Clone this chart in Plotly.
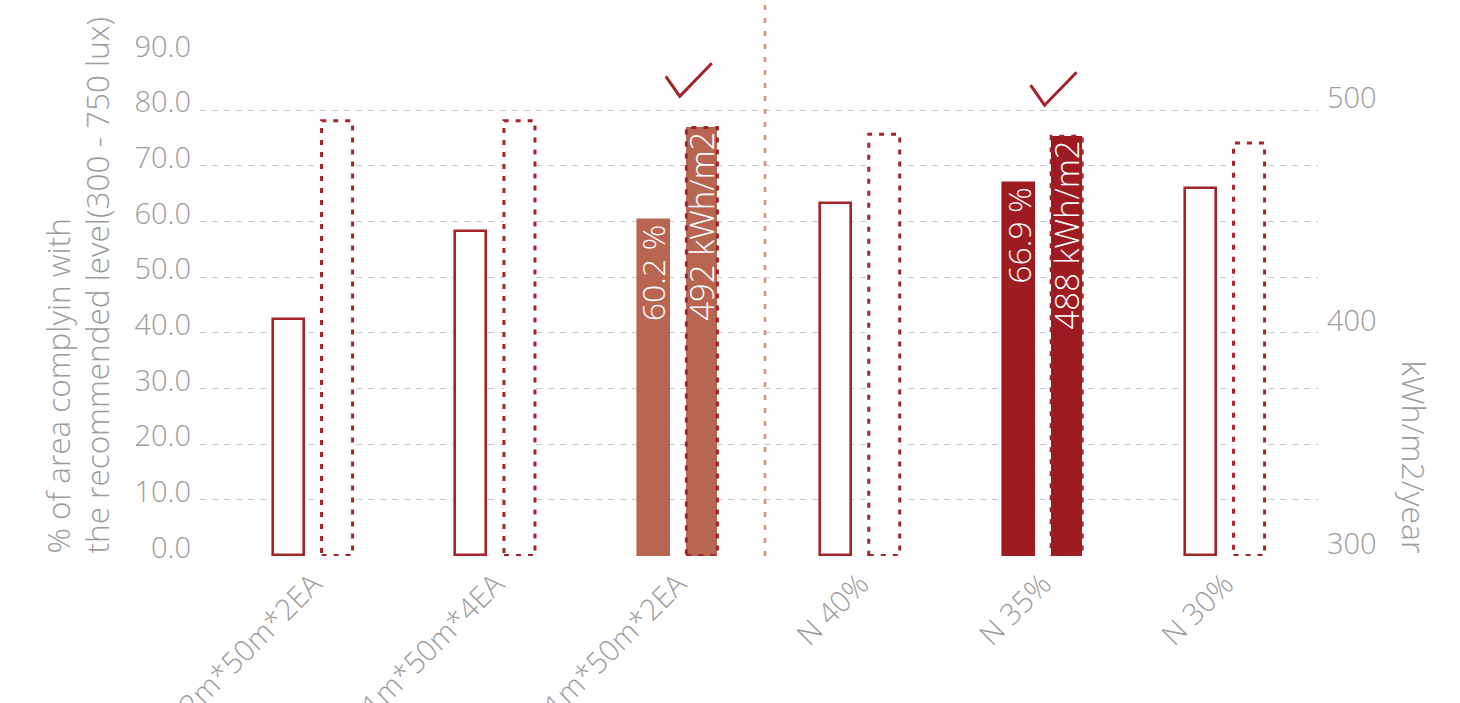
import plotly.graph_objects as go

# Lighting configurations compared
categories = ["2m*50m*2EA", "1m*50m*4EA", "1m*50m*2EA", "N 40%", "N 35%", "N 30%"]
# % of area within the recommended illuminance band (left axis)
compliance_pct = [42.5, 58.3, 60.2, 63.4, 66.9, 66.1]
# Annual energy use intensity, kWh/m2/year (right axis)
energy_kwh = [495, 495, 492, 489, 488, 485]
# Options picked out as preferred
highlight = [False, False, True, False, True, False]
highlight_colors = {2: "#B86552", 4: "#9E1B21"}

RED = "#A3232B"
GRAY = "#9C9C9C"
FONT = "Open Sans"


def font(size, color=GRAY):
    return dict(family=FONT, size=size, color=color, weight=300)


x_idx = list(range(len(categories)))
BAR_W = 0.17
SOLID_OFF = -0.219
DOT_OFF = 0.047

# page geometry
W, H = 1460, 703
L, R, T, B = 200, 142, 54, 147
pw, ph = W - L - R, H - T - B

Y_RANGE = [-0.1, 90.1]
Y2_MIN, Y2_MAX = 300, 524.7
pad2 = 0.1 * (Y2_MAX - Y2_MIN) / 90
Y2_RANGE = [Y2_MIN - pad2, Y2_MAX + pad2]
X_RANGE = [-0.6195, 5.51]

solid_fill = [highlight_colors.get(i, "white") for i in x_idx]
solid_line = [highlight_colors.get(i, RED) for i in x_idx]
dot_fill = [highlight_colors.get(i, "white") for i in x_idx]

fig = go.Figure()

fig.add_trace(go.Bar(
    x=x_idx, y=compliance_pct, width=BAR_W, offset=SOLID_OFF,
    marker=dict(color=solid_fill, line=dict(color=solid_line, width=2.6)),
    hoverinfo="skip", showlegend=False, yaxis="y",
))

fig.add_trace(go.Bar(
    x=x_idx, y=energy_kwh, width=BAR_W, offset=DOT_OFF,
    marker=dict(color=dot_fill, line=dict(width=0)),
    hoverinfo="skip", showlegend=False, yaxis="y2",
))

shapes = []
# dotted outline around the energy bars
for i, v in zip(x_idx, energy_kwh):
    shapes.append(dict(
        type="rect", xref="x", yref="y2",
        x0=i + DOT_OFF, x1=i + DOT_OFF + BAR_W, y0=Y2_MIN, y1=v,
        line=dict(color=RED, width=3, dash="5px,7px"), layer="above",
    ))

# divider between the two option families
shapes.append(dict(
    type="line", xref="x", yref="paper", x0=2.478, x1=2.478, y0=0, y1=1.12,
    line=dict(color="#D4937F", width=2.6, dash="5px,8px"), layer="above",
))


def px_to_paper(px, py):
    return (px - L) / pw, (H - B - py) / ph


annotations = []
# value labels inside the highlighted bars
for i in x_idx:
    if not highlight[i]:
        continue
    annotations.append(dict(
        x=i + SOLID_OFF + BAR_W / 2, y=compliance_pct[i], xref="x", yref="y",
        text=f"{compliance_pct[i]:.1f} %", textangle=-90, showarrow=False,
        xanchor="center", yanchor="top", yshift=-2,
        font=font(32, "white"),
    ))
    annotations.append(dict(
        x=i + DOT_OFF + BAR_W / 2, y=energy_kwh[i], xref="x", yref="y2",
        text=f"{energy_kwh[i]:d} kWh/m2", textangle=-90, showarrow=False,
        xanchor="center", yanchor="top", yshift=-2,
        font=font(33, "white"),
    ))

# axis titles, bottom-aligned on the baseline of the plot
for text, px, angle, size in [
    ("% of area complyin with", 57, -90, 31.5),
    ("the recommended level(300 - 750 lux)", 96, -90, 31.5),
    ("kWh/m2/year", 1414, 90, 32),
]:
    ax, ay = px_to_paper(px, 556)
    annotations.append(dict(
        x=ax, y=ay, xref="paper", yref="paper", text=text,
        textangle=angle, showarrow=False, xanchor="center", yanchor="bottom",
        font=font(size),
    ))

fig.update_layout(
    width=W, height=H,
    margin=dict(l=L, r=R, t=T, b=B, autoexpand=False),
    paper_bgcolor="white", plot_bgcolor="white",
    barmode="overlay", bargap=0,
    shapes=shapes, annotations=annotations,
    xaxis=dict(
        range=X_RANGE, tickmode="array", tickvals=x_idx, ticktext=categories,
        tickangle=-45, showgrid=False, zeroline=False, showline=False, ticks="",
        automargin=False, ticklabelstandoff=4,
        tickfont=font(29.5),
    ),
    yaxis=dict(
        range=Y_RANGE, tickmode="array", tickvals=list(range(0, 91, 10)), tickformat=".1f",
        showgrid=True, gridcolor="#C9C9C9", gridwidth=1.4, griddash="6px,6px",
        zeroline=False, showline=False, ticks="", automargin=False,
        tickfont=font(29), ticklabelshift=-8, ticklabelstandoff=8,
    ),
    yaxis2=dict(
        overlaying="y", side="right", range=Y2_RANGE,
        tickmode="array", tickvals=[300, 400, 500],
        showgrid=False, zeroline=False, showline=False, ticks="", automargin=False,
        tickfont=font(29), ticklabelshift=-12, ticklabelstandoff=8,
    ),
)

# check marks above the preferred options
CHECK_PX = [(-12, 20), (2, 0), (34, 33)]
px_per_x = pw / (X_RANGE[1] - X_RANGE[0])
px_per_y = ph / (Y_RANGE[1] - Y_RANGE[0])
for i in x_idx:
    if not highlight[i]:
        continue
    top_left_units = (energy_kwh[i] - Y2_MIN) * 90 / (Y2_MAX - Y2_MIN)
    base_y = top_left_units + 5.6
    xs = [i + dx / px_per_x for dx, dy in CHECK_PX]
    ys = [base_y + dy / px_per_y for dx, dy in CHECK_PX]
    fig.add_trace(go.Scatter(
        x=xs, y=ys, mode="lines", line=dict(color=RED, width=3),
        hoverinfo="skip", showlegend=False, yaxis="y", cliponaxis=False,
    ))

fig.write_html("out.html")
